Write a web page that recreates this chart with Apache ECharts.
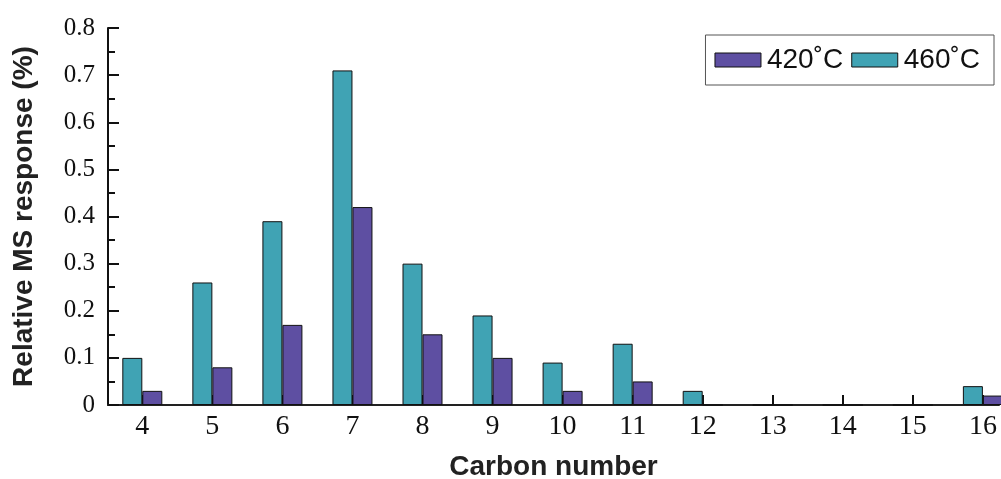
<!DOCTYPE html>
<html>
<head>
<meta charset="utf-8">
<script src="https://cdn.jsdelivr.net/npm/echarts@6/dist/echarts.min.js"></script>
<style>
html,body{margin:0;padding:0;background:#fff;}
#chart{width:1001px;height:479px;}
</style>
</head>
<body>
<div id="chart"></div>
<script>
const carbonNumbers = [4, 5, 6, 7, 8, 9, 10, 11, 12, 13, 14, 15, 16];
const values460 = [0.10, 0.26, 0.39, 0.71, 0.30, 0.19, 0.09, 0.13, 0.03, 0, 0, 0, 0.04];
const values420 = [0.03, 0.08, 0.17, 0.42, 0.15, 0.10, 0.03, 0.05, 0, 0, 0, 0, 0.02];
const yTicks = [0, 0.1, 0.2, 0.3, 0.4, 0.5, 0.6, 0.7, 0.8];
const seriesNames = ['420˚C', '460˚C'];

const chart = echarts.init(document.getElementById('chart'));
const pairs = arr => carbonNumbers.map((c, i) => [c, arr[i]]);

chart.setOption({
  animation: false,
  backgroundColor: '#fff',
  grid: { left: 108, right: 2, top: 28, bottom: 74, outerBoundsMode: 'none', containLabel: false },
  legend: {
    data: seriesNames,
    right: 7, top: 35,
    orient: 'horizontal',
    icon: 'rect',
    itemWidth: 46, itemHeight: 14, itemGap: 8,
    padding: [11, 14, 11, 9],
    borderColor: '#555', borderWidth: 1,
    itemStyle: { borderColor: '#111', borderWidth: 1 },
    textStyle: { fontFamily: 'Liberation Sans, Arial, sans-serif', fontSize: 28, color: '#111', padding: [0, 0, 0, 1] }
  },
  xAxis: {
    type: 'value',
    min: 3.51, max: 16.23,
    name: 'Carbon number',
    nameLocation: 'middle',
    nameGap: 48,
    nameTextStyle: { fontFamily: 'Liberation Sans, Arial, sans-serif', fontWeight: 'bold', fontSize: 28, color: '#222' },
    axisLine: { show: true, onZero: false, lineStyle: { color: '#222', width: 2 } },
    axisTick: { show: true, inside: true, length: 10, customValues: carbonNumbers, lineStyle: { color: '#111', width: 2 } },
    axisLabel: { customValues: carbonNumbers, fontFamily: 'Liberation Serif, serif', fontSize: 28, color: '#111', margin: 8 },
    splitLine: { show: false }
  },
  yAxis: {
    type: 'value',
    min: 0, max: 0.8, interval: 0.1,
    name: 'Relative MS response (%)',
    nameLocation: 'middle',
    nameGap: 70,
    nameTextStyle: { fontFamily: 'Liberation Sans, Arial, sans-serif', fontWeight: 'bold', fontSize: 28, color: '#222' },
    axisLine: { show: true, lineStyle: { color: '#111', width: 2 } },
    axisTick: { show: true, inside: true, length: 11, lineStyle: { color: '#111', width: 2 } },
    minorTick: { show: true, splitNumber: 2, length: 7, lineStyle: { color: '#111', width: 2 } },
    axisLabel: {
      fontFamily: 'Liberation Serif, serif', fontSize: 25, color: '#111', margin: 13,
      formatter: v => { const t = yTicks.find(x => Math.abs(x - v) < 1e-9); return t === undefined ? '' : String(t); }
    },
    splitLine: { show: false }
  },
  series: [
    {
      name: seriesNames[1], type: 'bar', data: pairs(values460),
      barWidth: 20, barGap: '0%',
      itemStyle: { color: '#40a3b4', borderColor: '#111', borderWidth: 1 }
    },
    {
      name: seriesNames[0], type: 'bar', data: pairs(values420),
      barWidth: 20, barGap: '0%',
      itemStyle: { color: '#5e4fa2', borderColor: '#111', borderWidth: 1 }
    }
  ]
});
</script>
</body>
</html>
